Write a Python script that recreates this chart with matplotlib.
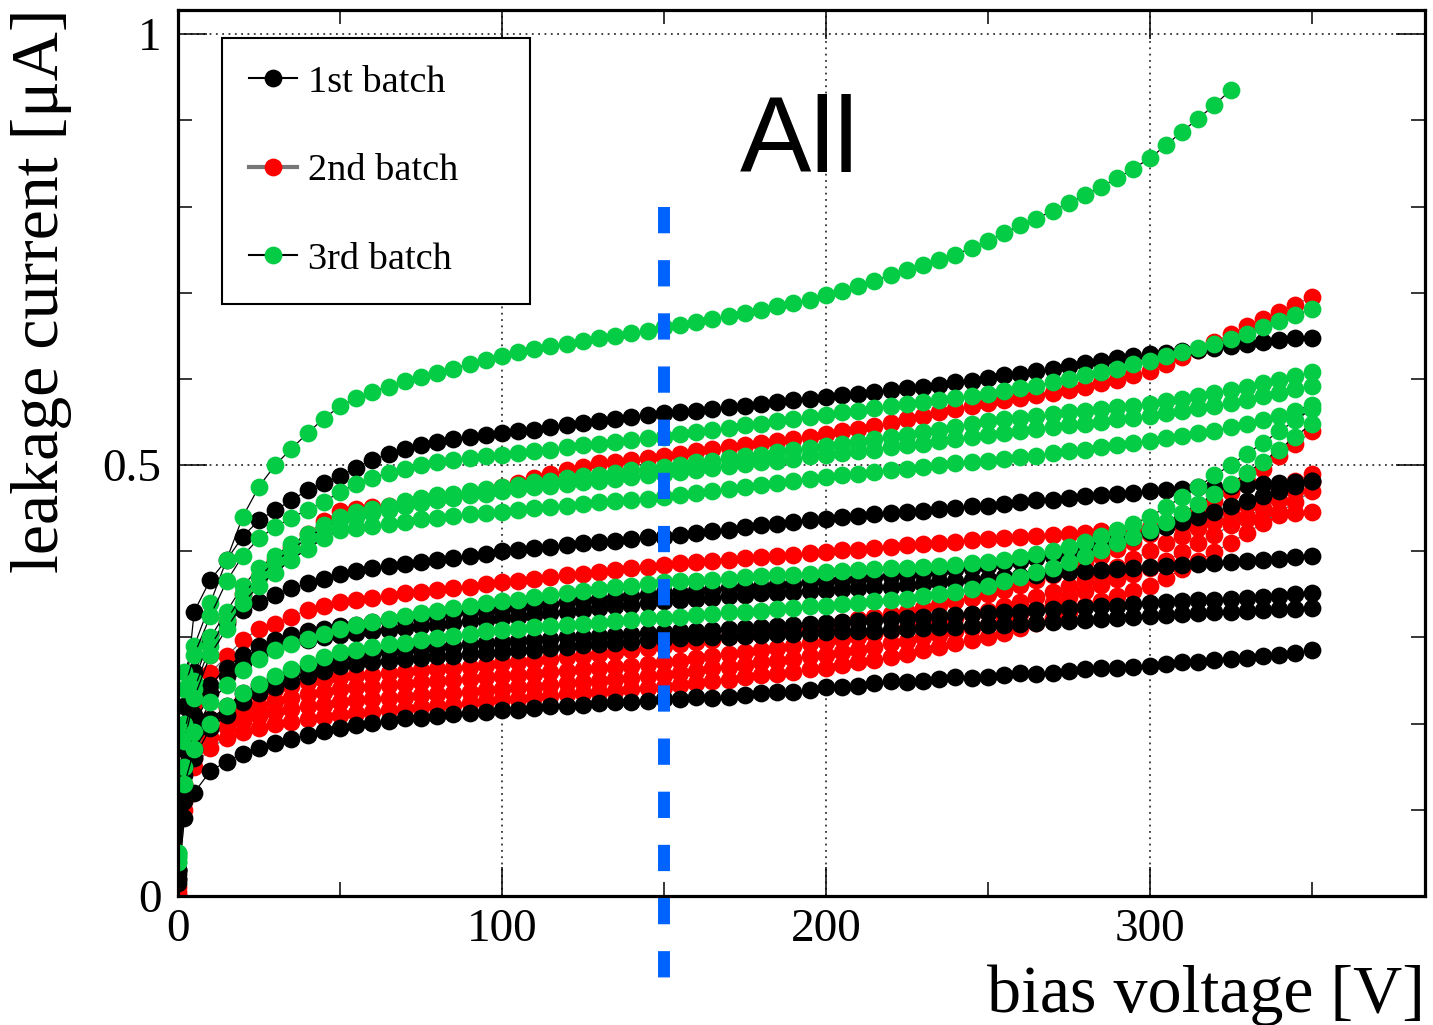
import matplotlib
matplotlib.use("Agg")
import matplotlib.pyplot as plt
from matplotlib.lines import Line2D
from matplotlib.ticker import MultipleLocator, FixedLocator

# ---------------- data (bias voltage [V], leakage current [uA]) ----------------
voltages = [0, 2,
            5, 10, 15, 20, 25, 30, 35, 40, 45, 50,
            55, 60, 65, 70, 75, 80, 85, 90, 95, 100,
            105, 110, 115, 120, 125, 130, 135, 140, 145, 150,
            155, 160, 165, 170, 175, 180, 185, 190, 195, 200,
            205, 210, 215, 220, 225, 230, 235, 240, 245, 250,
            255, 260, 265, 270, 275, 280, 285, 290, 295, 300,
            305, 310, 315, 320, 325, 330, 335, 340, 345, 350]

# 1st batch (black)
b1_s1 = [0.030, 0.220,
         0.330, 0.367, 0.390, 0.417, 0.436, 0.448, 0.459, 0.471, 0.479, 0.487,
         0.497, 0.506, 0.513, 0.519, 0.523, 0.527, 0.530, 0.533, 0.535, 0.537,
         0.539, 0.541, 0.544, 0.547, 0.549, 0.551, 0.553, 0.556, 0.558, 0.560,
         0.562, 0.563, 0.565, 0.567, 0.569, 0.571, 0.573, 0.575, 0.577, 0.579,
         0.581, 0.583, 0.585, 0.587, 0.589, 0.591, 0.593, 0.596, 0.598, 0.601,
         0.604, 0.606, 0.609, 0.612, 0.615, 0.618, 0.621, 0.624, 0.627, 0.629,
         0.630, 0.632, 0.634, 0.636, 0.638, 0.641, 0.643, 0.645, 0.647, 0.648]
b1_s2 = [0.030, 0.170,
         0.260, 0.297, 0.317, 0.332, 0.341, 0.349, 0.357, 0.363, 0.368, 0.374,
         0.377, 0.380, 0.383, 0.385, 0.387, 0.390, 0.392, 0.395, 0.397, 0.400,
         0.402, 0.404, 0.405, 0.407, 0.409, 0.411, 0.412, 0.414, 0.416, 0.417,
         0.419, 0.421, 0.423, 0.425, 0.428, 0.430, 0.432, 0.434, 0.436, 0.438,
         0.440, 0.441, 0.443, 0.444, 0.446, 0.447, 0.449, 0.450, 0.452, 0.453,
         0.455, 0.457, 0.459, 0.460, 0.462, 0.464, 0.465, 0.467, 0.468, 0.470,
         0.471, 0.472, 0.474, 0.475, 0.476, 0.477, 0.478, 0.479, 0.480, 0.481]
b1_s3 = [0.025, 0.140,
         0.200, 0.235, 0.255, 0.270, 0.280, 0.288, 0.293, 0.297, 0.300, 0.303,
         0.305, 0.307, 0.309, 0.311, 0.313, 0.315, 0.317, 0.319, 0.320, 0.322,
         0.324, 0.326, 0.328, 0.330, 0.332, 0.334, 0.336, 0.338, 0.340, 0.342,
         0.343, 0.345, 0.346, 0.348, 0.349, 0.351, 0.352, 0.353, 0.354, 0.355,
         0.356, 0.357, 0.358, 0.359, 0.361, 0.362, 0.364, 0.365, 0.367, 0.368,
         0.370, 0.371, 0.373, 0.374, 0.376, 0.377, 0.378, 0.379, 0.381, 0.382,
         0.383, 0.384, 0.385, 0.386, 0.388, 0.389, 0.390, 0.391, 0.393, 0.394]
b1_s4 = [0.030, 0.150,
         0.210, 0.245, 0.265, 0.280, 0.290, 0.297, 0.303, 0.307, 0.310, 0.313,
         0.315, 0.318, 0.320, 0.322, 0.324, 0.326, 0.328, 0.330, 0.331, 0.333,
         0.335, 0.337, 0.339, 0.341, 0.343, 0.344, 0.346, 0.348, 0.349, 0.351,
         0.352, 0.354, 0.355, 0.357, 0.358, 0.359, 0.361, 0.362, 0.364, 0.365,
         0.367, 0.368, 0.370, 0.371, 0.373, 0.375, 0.377, 0.379, 0.381, 0.383,
         0.386, 0.389, 0.392, 0.395, 0.399, 0.403, 0.407, 0.412, 0.417, 0.422,
         0.428, 0.434, 0.440, 0.446, 0.452, 0.458, 0.464, 0.470, 0.476, 0.481]
b1_s5 = [0.020, 0.120,
         0.170, 0.205, 0.220, 0.235, 0.245, 0.252, 0.259, 0.265, 0.271, 0.277,
         0.279, 0.281, 0.283, 0.285, 0.287, 0.289, 0.290, 0.292, 0.293, 0.295,
         0.296, 0.297, 0.298, 0.300, 0.301, 0.302, 0.303, 0.304, 0.305, 0.306,
         0.307, 0.308, 0.309, 0.310, 0.311, 0.312, 0.313, 0.314, 0.316, 0.317,
         0.318, 0.319, 0.320, 0.321, 0.323, 0.324, 0.325, 0.326, 0.327, 0.328,
         0.329, 0.330, 0.332, 0.333, 0.334, 0.335, 0.336, 0.337, 0.339, 0.340,
         0.341, 0.342, 0.343, 0.344, 0.345, 0.346, 0.347, 0.348, 0.350, 0.351]
b1_s6 = [0.020, 0.110,
         0.160, 0.195, 0.210, 0.225, 0.235, 0.243, 0.249, 0.255, 0.261, 0.267,
         0.269, 0.271, 0.273, 0.275, 0.276, 0.278, 0.279, 0.281, 0.282, 0.283,
         0.285, 0.286, 0.288, 0.289, 0.291, 0.292, 0.294, 0.295, 0.297, 0.298,
         0.299, 0.300, 0.300, 0.301, 0.302, 0.303, 0.304, 0.304, 0.305, 0.306,
         0.307, 0.308, 0.308, 0.309, 0.310, 0.311, 0.312, 0.312, 0.313, 0.314,
         0.315, 0.316, 0.317, 0.318, 0.319, 0.320, 0.321, 0.322, 0.324, 0.325,
         0.326, 0.327, 0.328, 0.329, 0.330, 0.331, 0.332, 0.333, 0.333, 0.334]
b1_s7 = [0.015, 0.090,
         0.120, 0.145, 0.156, 0.165, 0.172, 0.177, 0.182, 0.187, 0.191, 0.195,
         0.198, 0.201, 0.203, 0.206, 0.207, 0.209, 0.211, 0.212, 0.214, 0.216,
         0.216, 0.218, 0.220, 0.220, 0.222, 0.224, 0.225, 0.225, 0.226, 0.228,
         0.229, 0.231, 0.230, 0.231, 0.233, 0.236, 0.237, 0.237, 0.239, 0.242,
         0.242, 0.244, 0.247, 0.249, 0.248, 0.250, 0.252, 0.254, 0.253, 0.254,
         0.256, 0.259, 0.258, 0.259, 0.261, 0.263, 0.264, 0.265, 0.266, 0.267,
         0.269, 0.271, 0.272, 0.274, 0.275, 0.276, 0.278, 0.280, 0.282, 0.285]

# 2nd batch (red)
b2_s1 = [0.010, 0.170,
         0.230, 0.280, 0.320, 0.350, 0.370, 0.390, 0.405, 0.420, 0.435, 0.447,
         0.449, 0.451, 0.453, 0.455, 0.458, 0.461, 0.463, 0.466, 0.470, 0.474,
         0.479, 0.485, 0.490, 0.494, 0.498, 0.502, 0.504, 0.506, 0.508, 0.510,
         0.513, 0.516, 0.519, 0.521, 0.523, 0.526, 0.528, 0.530, 0.533, 0.536,
         0.539, 0.542, 0.545, 0.549, 0.553, 0.557, 0.561, 0.565, 0.568, 0.572,
         0.575, 0.578, 0.581, 0.584, 0.587, 0.591, 0.595, 0.599, 0.604, 0.609,
         0.617, 0.625, 0.634, 0.643, 0.652, 0.661, 0.670, 0.678, 0.686, 0.695]
b2_s2 = [0.005, 0.150,
         0.224, 0.259, 0.278, 0.297, 0.310, 0.316, 0.324, 0.332, 0.336, 0.341,
         0.343, 0.346, 0.348, 0.351, 0.353, 0.355, 0.357, 0.359, 0.362, 0.364,
         0.366, 0.368, 0.370, 0.372, 0.374, 0.376, 0.378, 0.380, 0.382, 0.384,
         0.386, 0.387, 0.389, 0.390, 0.392, 0.393, 0.395, 0.396, 0.398, 0.399,
         0.401, 0.402, 0.404, 0.405, 0.407, 0.408, 0.410, 0.411, 0.413, 0.414,
         0.415, 0.416, 0.418, 0.419, 0.420, 0.421, 0.423, 0.424, 0.425, 0.427,
         0.429, 0.430, 0.432, 0.434, 0.436, 0.438, 0.440, 0.442, 0.444, 0.446]
b2_s3 = [0.000, 0.130,
         0.180, 0.205, 0.218, 0.228, 0.234, 0.240, 0.244, 0.248, 0.251, 0.254,
         0.256, 0.257, 0.259, 0.260, 0.262, 0.263, 0.265, 0.266, 0.268, 0.270,
         0.272, 0.273, 0.275, 0.277, 0.279, 0.281, 0.283, 0.285, 0.288, 0.290,
         0.292, 0.295, 0.297, 0.300, 0.302, 0.305, 0.307, 0.310, 0.312, 0.315,
         0.318, 0.321, 0.324, 0.327, 0.330, 0.334, 0.338, 0.342, 0.346, 0.350,
         0.355, 0.361, 0.367, 0.373, 0.380, 0.387, 0.395, 0.403, 0.411, 0.420,
         0.429, 0.438, 0.448, 0.458, 0.469, 0.482, 0.496, 0.510, 0.524, 0.539]
b2_s4 = [0.000, 0.120,
         0.170, 0.195, 0.207, 0.215, 0.221, 0.226, 0.230, 0.234, 0.237, 0.240,
         0.242, 0.243, 0.245, 0.246, 0.248, 0.249, 0.251, 0.252, 0.254, 0.255,
         0.257, 0.258, 0.260, 0.261, 0.263, 0.264, 0.266, 0.267, 0.269, 0.271,
         0.273, 0.276, 0.278, 0.281, 0.283, 0.286, 0.288, 0.290, 0.293, 0.295,
         0.298, 0.301, 0.304, 0.307, 0.311, 0.315, 0.319, 0.323, 0.327, 0.331,
         0.336, 0.341, 0.347, 0.353, 0.360, 0.367, 0.374, 0.382, 0.391, 0.400,
         0.409, 0.418, 0.427, 0.436, 0.445, 0.454, 0.463, 0.472, 0.481, 0.490]
b2_s5 = [0.000, 0.110,
         0.160, 0.185, 0.196, 0.203, 0.209, 0.213, 0.217, 0.220, 0.222, 0.225,
         0.227, 0.228, 0.230, 0.231, 0.233, 0.234, 0.236, 0.237, 0.239, 0.240,
         0.242, 0.243, 0.245, 0.247, 0.248, 0.250, 0.252, 0.253, 0.255, 0.257,
         0.259, 0.261, 0.264, 0.266, 0.268, 0.271, 0.273, 0.275, 0.278, 0.280,
         0.283, 0.286, 0.289, 0.293, 0.296, 0.300, 0.303, 0.307, 0.311, 0.315,
         0.321, 0.327, 0.333, 0.340, 0.347, 0.354, 0.361, 0.368, 0.374, 0.380,
         0.389, 0.399, 0.409, 0.419, 0.430, 0.440, 0.450, 0.460, 0.470, 0.480]
b2_s6 = [0.000, 0.100,
         0.150, 0.172, 0.183, 0.190, 0.195, 0.199, 0.202, 0.205, 0.208, 0.210,
         0.212, 0.214, 0.216, 0.217, 0.219, 0.221, 0.222, 0.224, 0.226, 0.228,
         0.229, 0.231, 0.232, 0.234, 0.235, 0.237, 0.238, 0.240, 0.241, 0.243,
         0.245, 0.247, 0.249, 0.251, 0.254, 0.256, 0.258, 0.260, 0.263, 0.265,
         0.268, 0.271, 0.274, 0.277, 0.281, 0.285, 0.289, 0.293, 0.297, 0.300,
         0.305, 0.311, 0.317, 0.323, 0.330, 0.336, 0.342, 0.348, 0.354, 0.360,
         0.369, 0.379, 0.389, 0.399, 0.410, 0.421, 0.433, 0.445, 0.457, 0.470]

# 3rd batch (green)
b3_s1 = [0.050, 0.260,
         0.290, 0.340, 0.390, 0.440, 0.475, 0.500, 0.519, 0.537, 0.554, 0.568,
         0.578, 0.585, 0.591, 0.597, 0.602, 0.607, 0.612, 0.617, 0.622, 0.627,
         0.631, 0.635, 0.638, 0.641, 0.644, 0.647, 0.650, 0.653, 0.656, 0.660,
         0.663, 0.666, 0.669, 0.673, 0.676, 0.680, 0.684, 0.688, 0.692, 0.697,
         0.702, 0.708, 0.714, 0.720, 0.726, 0.732, 0.738, 0.744, 0.752, 0.760,
         0.769, 0.778, 0.786, 0.795, 0.804, 0.813, 0.823, 0.833, 0.844, 0.856,
         0.871, 0.887, 0.902, 0.918, 0.935]
b3_s2 = [0.045, 0.240,
         0.280, 0.325, 0.365, 0.395, 0.415, 0.428, 0.439, 0.448, 0.457, 0.469,
         0.478, 0.485, 0.491, 0.496, 0.500, 0.504, 0.506, 0.508, 0.510, 0.512,
         0.514, 0.516, 0.518, 0.521, 0.523, 0.525, 0.527, 0.529, 0.531, 0.533,
         0.536, 0.538, 0.541, 0.543, 0.546, 0.548, 0.551, 0.553, 0.556, 0.558,
         0.561, 0.563, 0.566, 0.568, 0.571, 0.573, 0.576, 0.578, 0.580, 0.583,
         0.586, 0.589, 0.592, 0.596, 0.600, 0.604, 0.608, 0.612, 0.617, 0.621,
         0.626, 0.631, 0.636, 0.640, 0.646, 0.652, 0.660, 0.667, 0.674, 0.681]
b3_s3 = [0.050, 0.200,
         0.250, 0.300, 0.330, 0.360, 0.380, 0.395, 0.408, 0.420, 0.430, 0.440,
         0.445, 0.449, 0.453, 0.458, 0.462, 0.465, 0.467, 0.470, 0.472, 0.475,
         0.477, 0.480, 0.482, 0.485, 0.487, 0.489, 0.491, 0.494, 0.496, 0.498,
         0.500, 0.503, 0.505, 0.508, 0.510, 0.512, 0.515, 0.517, 0.520, 0.522,
         0.525, 0.527, 0.530, 0.532, 0.535, 0.538, 0.541, 0.544, 0.548, 0.551,
         0.553, 0.555, 0.557, 0.559, 0.561, 0.563, 0.565, 0.567, 0.569, 0.571,
         0.574, 0.577, 0.580, 0.584, 0.587, 0.591, 0.595, 0.599, 0.603, 0.608]
b3_s4 = [0.050, 0.190,
         0.240, 0.290, 0.320, 0.350, 0.370, 0.388, 0.402, 0.415, 0.428, 0.436,
         0.440, 0.444, 0.448, 0.452, 0.456, 0.459, 0.462, 0.465, 0.467, 0.470,
         0.472, 0.474, 0.476, 0.478, 0.480, 0.482, 0.484, 0.486, 0.488, 0.490,
         0.492, 0.494, 0.497, 0.499, 0.501, 0.503, 0.505, 0.507, 0.510, 0.512,
         0.514, 0.516, 0.518, 0.521, 0.523, 0.525, 0.528, 0.530, 0.532, 0.535,
         0.537, 0.539, 0.542, 0.544, 0.546, 0.548, 0.550, 0.553, 0.555, 0.557,
         0.560, 0.563, 0.566, 0.569, 0.572, 0.576, 0.580, 0.584, 0.588, 0.592]
b3_s5 = [0.040, 0.180,
         0.230, 0.280, 0.310, 0.340, 0.360, 0.375, 0.390, 0.403, 0.415, 0.425,
         0.427, 0.429, 0.432, 0.434, 0.437, 0.439, 0.441, 0.443, 0.444, 0.446,
         0.448, 0.450, 0.451, 0.453, 0.455, 0.457, 0.458, 0.460, 0.461, 0.463,
         0.465, 0.468, 0.470, 0.472, 0.475, 0.477, 0.479, 0.481, 0.484, 0.486,
         0.488, 0.490, 0.492, 0.494, 0.496, 0.498, 0.500, 0.502, 0.503, 0.505,
         0.507, 0.509, 0.511, 0.514, 0.516, 0.518, 0.521, 0.523, 0.526, 0.528,
         0.531, 0.534, 0.537, 0.540, 0.544, 0.548, 0.552, 0.557, 0.563, 0.570]
b3_s6 = [0.045, 0.150,
         0.190, 0.225, 0.245, 0.262, 0.275, 0.285, 0.292, 0.298, 0.304, 0.310,
         0.314, 0.318, 0.321, 0.325, 0.328, 0.331, 0.334, 0.337, 0.340, 0.342,
         0.344, 0.347, 0.349, 0.351, 0.354, 0.356, 0.358, 0.360, 0.362, 0.364,
         0.365, 0.366, 0.367, 0.368, 0.370, 0.371, 0.372, 0.373, 0.374, 0.376,
         0.377, 0.378, 0.379, 0.380, 0.381, 0.382, 0.383, 0.384, 0.386, 0.387,
         0.390, 0.393, 0.397, 0.400, 0.405, 0.411, 0.418, 0.425, 0.432, 0.440,
         0.451, 0.463, 0.475, 0.488, 0.500, 0.513, 0.526, 0.539, 0.552, 0.565]
b3_s7 = [0.040, 0.130,
         0.170, 0.200, 0.220, 0.235, 0.246, 0.255, 0.263, 0.270, 0.277, 0.283,
         0.286, 0.289, 0.292, 0.294, 0.297, 0.299, 0.302, 0.304, 0.307, 0.309,
         0.310, 0.312, 0.313, 0.314, 0.316, 0.317, 0.319, 0.320, 0.322, 0.323,
         0.324, 0.326, 0.327, 0.329, 0.330, 0.331, 0.333, 0.334, 0.336, 0.337,
         0.339, 0.340, 0.342, 0.343, 0.345, 0.348, 0.350, 0.353, 0.356, 0.360,
         0.365, 0.370, 0.376, 0.381, 0.387, 0.394, 0.401, 0.409, 0.417, 0.425,
         0.434, 0.444, 0.455, 0.466, 0.478, 0.491, 0.504, 0.518, 0.533, 0.548]

batch1 = [b1_s1, b1_s2, b1_s3, b1_s4, b1_s5, b1_s6, b1_s7]
batch2 = [b2_s1, b2_s2, b2_s3, b2_s4, b2_s5, b2_s6]
batch3 = [b3_s1, b3_s2, b3_s3, b3_s4, b3_s5, b3_s6, b3_s7]

batch_labels = ["1st batch", "2nd batch", "3rd batch"]
x_ticks = [0, 100, 200, 300]
x_tick_labels = ["0", "100", "200", "300"]
y_ticks = [0, 0.5, 1]
y_tick_labels = ["0", "0.5", "1"]
cut_voltage = 150  # blue dashed marker line

# ---------------- style ----------------
BLACK = "#000000"
RED = "#ff0000"
GREEN = "#04cc44"
BLUE = "#0062ff"
SERIF = "Liberation Serif"
SANS = "Liberation Sans"

fig = plt.figure(figsize=(14.33, 10.25), dpi=100)
ax = fig.add_axes([178 / 1433, 1 - 896 / 1025, (1425 - 178) / 1433, (896 - 10) / 1025])
ax.set_xlim(0, 385)
ax.set_ylim(0, 1.028)

ms = 12.8
def draw(batch, col, lcol, z):
    for vals in batch:
        ax.plot(voltages[:len(vals)], vals, color=lcol, lw=0.9, marker="o",
                ms=ms, mfc=col, mec=col, mew=0, zorder=z)

draw(batch2, RED, "#666666", 3)
draw(batch1, BLACK, BLACK, 4)
draw(batch3, GREEN, BLACK, 5)

# blue dashed line (extends below the frame)
ax.plot([cut_voltage, cut_voltage], [0.8, -0.097], color=BLUE, lw=8.6,
        dashes=(2.2, 2.25), solid_capstyle="butt", dash_capstyle="butt",
        clip_on=False, zorder=10)

# axes styling (ROOT like)
for s in ax.spines.values():
    s.set_linewidth(2.3)
    s.set_zorder(8)
ax.xaxis.set_major_locator(FixedLocator(x_ticks))
ax.xaxis.set_minor_locator(MultipleLocator(50))
ax.yaxis.set_major_locator(FixedLocator(y_ticks))
ax.yaxis.set_minor_locator(MultipleLocator(0.1))
ax.set_xticklabels(x_tick_labels)
ax.set_yticklabels(y_tick_labels)
ax.tick_params(which="both", direction="in", top=True, right=True, width=1.1)
ax.tick_params(which="major", length=21)
ax.tick_params(which="minor", length=10)
ax.tick_params(axis="x", which="major", pad=9, labelsize=34)
ax.tick_params(axis="y", which="major", pad=12, labelsize=34)
for lab in ax.get_xticklabels() + ax.get_yticklabels():
    lab.set_family(SERIF)

ax.set_axisbelow(True)
ax.grid(True, which="major", color="#333333", linestyle=(0, (1, 2.5)), lw=1.3)

# axis titles
fig.text(0.029, 0.992, "leakage current [μA]", rotation=90, ha="center", va="top",
         fontsize=49, family=SERIF)
fig.text(1425 / 1433, 0.0125, "bias voltage [V]", ha="right", va="baseline",
         fontsize=49, family=SERIF)

# "All" label
fig.text(740 / 1433, 1 - 172 / 1025, "All", ha="left", va="baseline",
         fontsize=77, family=SANS)

# legend
handles = [
    Line2D([], [], color=BLACK, lw=1.5, marker="o", ms=ms, mfc=BLACK, mec=BLACK, mew=0),
    Line2D([], [], color="#777777", lw=3, marker="o", ms=ms, mfc=RED, mec=RED, mew=0),
    Line2D([], [], color=BLACK, lw=1.5, marker="o", ms=ms, mfc=GREEN, mec=GREEN, mew=0),
]
x0 = (222 - 178) / 1247
x1 = (530 - 178) / 1247
y1 = (896 - 38) / 886
y0 = (896 - 305) / 886
leg = ax.legend(handles, batch_labels, loc="upper left",
                bbox_to_anchor=(x0, y0, x1 - x0, y1 - y0), mode="expand",
                borderaxespad=0, prop={"family": SERIF, "size": 27.6},
                frameon=True, fancybox=False, framealpha=1, edgecolor="black",
                borderpad=0.7, labelspacing=1.4, handlelength=1.25,
                handletextpad=0.3)
leg.get_frame().set_linewidth(1.5)
leg.set_zorder(9)

fig.savefig("out.png", dpi=100)
